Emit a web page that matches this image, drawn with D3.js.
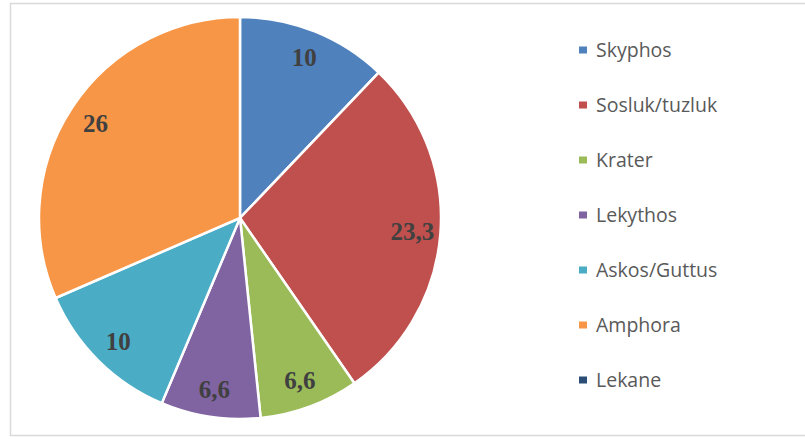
<!DOCTYPE html>
<html>
<head>
<meta charset="utf-8">
<script src="https://cdn.jsdelivr.net/npm/d3@7"></script>
<style>
  body { margin: 0; background: #fff; }
</style>
</head>
<body>
<div id="chart"></div>
<script>
// data
var categories = ['Skyphos', 'Sosluk/tuzluk', 'Krater', 'Lekythos', 'Askos/Guttus', 'Amphora', 'Lekane'];
var values = [10, 23.3, 6.6, 6.6, 10, 26, 0];
var valueLabels = ['10', '23,3', '6,6', '6,6', '10', '26', ''];
var colors = ['#4f81bd', '#c0504d', '#9bbb59', '#8064a2', '#4bacc6', '#f79646', '#2c4d75'];

var fullWidth = 805;
var fullHeight = 439;

var svg = d3.select('#chart').append('svg')
  .attr('width', fullWidth)
  .attr('height', fullHeight);

// chart area frame
svg.append('rect')
  .attr('x', 10.5)
  .attr('y', 3.5)
  .attr('width', 810)
  .attr('height', 432)
  .attr('fill', '#fff')
  .attr('stroke', '#d9d9d9')
  .attr('stroke-width', 1.5);

var cx = 240, cy = 218, radius = 201;

var data = categories.map(function(c, i) {
  return {name: c, value: values[i], label: valueLabels[i], color: colors[i]};
});

var pie = d3.pie()
  .sort(null)
  .value(function(d) { return d.value; });

var arc = d3.arc().innerRadius(0).outerRadius(radius);
var labelArc = d3.arc().innerRadius(radius * 0.86).outerRadius(radius * 0.86);

var g = svg.append('g')
  .attr('transform', 'translate(' + cx + ',' + cy + ')');

var arcs = pie(data).filter(function(d) { return d.data.value > 0; });

g.selectAll('path.slice')
  .data(arcs)
  .enter().append('path')
    .classed('slice', true)
    .attr('d', arc)
    .attr('fill', function(d) { return d.data.color; })
    .attr('stroke', '#fff')
    .attr('stroke-width', 2.5);

g.selectAll('text.val')
  .data(arcs)
  .enter().append('text')
    .classed('val', true)
    .attr('transform', function(d) { return 'translate(' + labelArc.centroid(d) + ')'; })
    .attr('text-anchor', 'middle')
    .attr('dy', '0.35em')
    .style('font-family', '"Liberation Serif", "Times New Roman", serif')
    .style('font-weight', 'bold')
    .style('font-size', '25px')
    .style('fill', '#404040')
    .text(function(d) { return d.data.label; });

// legend
var legendY = d3.scalePoint()
  .domain(categories)
  .range([50, 380]);

var legend = svg.append('g').classed('legend', true);

var items = legend.selectAll('g.item')
  .data(data)
  .enter().append('g')
    .classed('item', true)
    .attr('transform', function(d) { return 'translate(579,' + legendY(d.name) + ')'; });

items.append('rect')
  .attr('x', 0)
  .attr('y', -3.5)
  .attr('width', 8)
  .attr('height', 7)
  .attr('fill', function(d) { return d.color; });

items.append('text')
  .attr('x', 17)
  .attr('dy', '0.35em')
  .style('font-family', '"Open Sans", sans-serif')
  .style('font-size', '19.5px')
  .style('fill', '#595959')
  .text(function(d) { return d.name; });
</script>
</body>
</html>
